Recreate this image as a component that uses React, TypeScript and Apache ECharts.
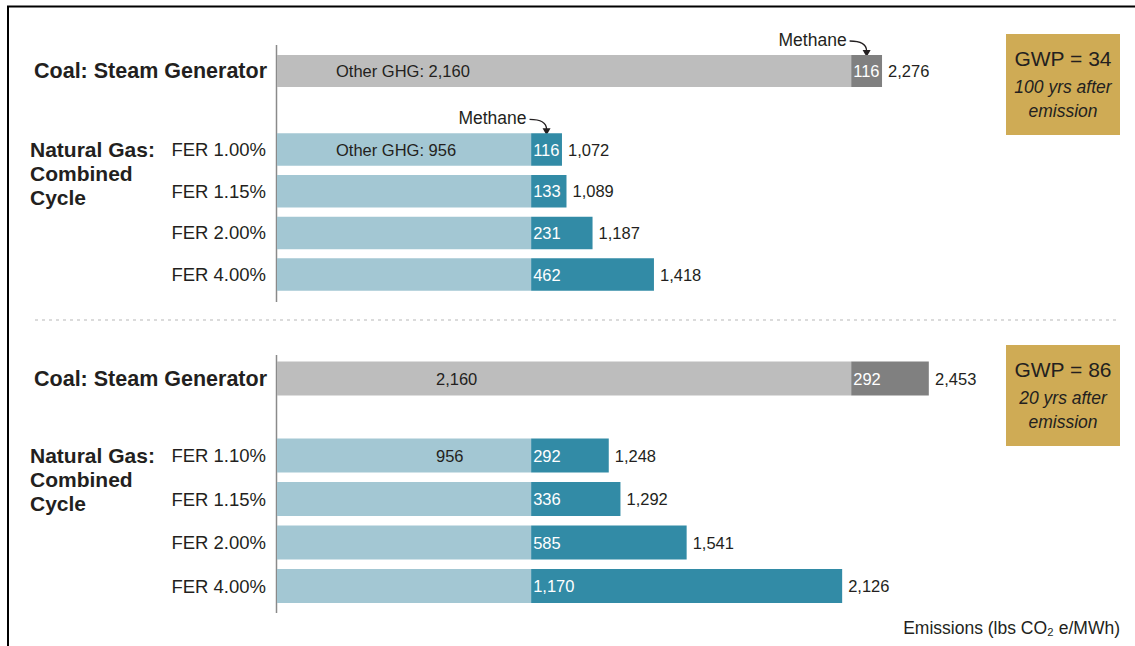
import React, { useEffect, useRef } from "react";
import * as echarts from "echarts";

// ---------- data ----------
const coalCategory = ["Coal: Steam Generator"];
const gasCategories100 = ["FER 1.00%", "FER 1.15%", "FER 2.00%", "FER 4.00%"];
const gasCategories20 = ["FER 1.10%", "FER 1.15%", "FER 2.00%", "FER 4.00%"];

const coalOther100 = [2160];
const coalMethane100 = [116];
const coalTotal100 = [2276];
const gasOther100 = [956, 956, 956, 956];
const gasMethane100 = [116, 133, 231, 462];
const gasTotal100 = [1072, 1089, 1187, 1418];

const coalOther20 = [2160];
const coalMethane20 = [292];
const coalTotal20 = [2453];
const gasOther20 = [956, 956, 956, 956];
const gasMethane20 = [292, 336, 585, 1170];
const gasTotal20 = [1248, 1292, 1541, 2126];

const gwpTitles = ["GWP = 34", "GWP = 86"];
const gwpHorizons = ["100 yrs after", "20 yrs after"];
const gwpSuffix = "emission";
const groupLabelLines = ["Natural Gas:", "Combined", "Cycle"];
const methaneLabel = "Methane";
const otherPrefix = "Other GHG: ";
const axisTitle = "Emissions (lbs CO\u2082 e/MWh)";

// ---------- styles ----------
const SANS = "'Liberation Sans', Arial, sans-serif";
const INK = "#231f20";
const COAL_OTHER = "#bdbdbd";
const COAL_METH = "#808080";
const GAS_OTHER = "#a3c7d3";
const GAS_METH = "#328ba6";
const GOLD = "#cfab55";
const fmt = (v: number) => v.toLocaleString("en-US");

const X_MAX = 3000;
const GRID_LEFT = 277;
const GRID_WIDTH = 797.5;
const VAL_SIZE = 16.5;

const grids = [
  { top: 55, height: 32, bar: 32 },
  { top: 128.7, height: 166.7, bar: 32.5 },
  { top: 361.5, height: 34, bar: 34 },
  { top: 433.75, height: 174, bar: 34 },
];

function makeSeries(
  gi: number,
  other: number[],
  methane: number[],
  total: number[],
  cOther: string,
  cMeth: string,
  otherFmt: (v: number) => string,
  otherDist: number
) {
  const bw = grids[gi].bar;
  return [
    {
      type: "bar",
      xAxisIndex: gi,
      yAxisIndex: gi,
      stack: "s" + gi,
      barWidth: bw,
      barGap: "-100%",
      itemStyle: { color: cOther },
      data: other.map((v, i) => ({ value: v, label: { show: i === 0 } })),
      label: {
        position: "insideLeft",
        distance: otherDist,
        color: INK,
        fontFamily: SANS,
        fontSize: VAL_SIZE,
        formatter: (p: any) => otherFmt(p.value),
      },
    },
    {
      type: "bar",
      xAxisIndex: gi,
      yAxisIndex: gi,
      stack: "s" + gi,
      barWidth: bw,
      barGap: "-100%",
      itemStyle: { color: cMeth },
      data: methane,
      label: {
        show: true,
        position: "insideLeft",
        distance: 2,
        color: "#ffffff",
        fontFamily: SANS,
        fontSize: VAL_SIZE,
        formatter: (p: any) => fmt(p.value),
      },
    },
    {
      type: "bar",
      xAxisIndex: gi,
      yAxisIndex: gi,
      barWidth: bw,
      barGap: "-100%",
      silent: true,
      itemStyle: { color: "rgba(0,0,0,0)" },
      data: total,
      label: {
        show: true,
        position: "right",
        distance: 6,
        color: INK,
        fontFamily: SANS,
        fontSize: VAL_SIZE,
        formatter: (p: any) => fmt(p.value),
      },
      z: 1,
    },
  ];
}

export default function App() {
  const ref = useRef<HTMLDivElement>(null);
  useEffect(() => {
    if (!ref.current) return;
    const chart = echarts.init(ref.current, undefined, { renderer: "svg" });
    const cats = [coalCategory, gasCategories100, coalCategory, gasCategories20];
    const option: any = {
      animation: false,
      backgroundColor: "#ffffff",
      grid: grids.map((g) => ({ left: GRID_LEFT, width: GRID_WIDTH, top: g.top, height: g.height })),
      xAxis: grids.map((_, i) => ({ type: "value", gridIndex: i, min: 0, max: X_MAX, show: false })),
      yAxis: grids.map((_, i) => ({
        type: "category",
        gridIndex: i,
        inverse: true,
        data: cats[i],
        axisLine: { show: false },
        axisTick: { show: false },
        axisLabel:
          i % 2 === 0
            ? { color: INK, fontFamily: SANS, fontWeight: "bold", fontSize: 21.5, margin: 10 }
            : { color: INK, fontFamily: SANS, fontSize: 18.5, margin: 11 },
      })),
      series: [
        ...makeSeries(0, coalOther100, coalMethane100, coalTotal100, COAL_OTHER, COAL_METH, (v) => otherPrefix + fmt(v), 59),
        ...makeSeries(1, gasOther100, gasMethane100, gasTotal100, GAS_OTHER, GAS_METH, (v) => otherPrefix + fmt(v), 59),
        ...makeSeries(2, coalOther20, coalMethane20, coalTotal20, COAL_OTHER, COAL_METH, (v) => fmt(v), 159),
        ...makeSeries(3, gasOther20, gasMethane20, gasTotal20, GAS_OTHER, GAS_METH, (v) => fmt(v), 159),
      ],
    };
    chart.setOption(option);

    const graphics: any[] = [];
    // frame
    graphics.push({
      type: "polyline",
      shape: { points: [[8, 646], [8, 6.5], [1135, 6.5]] },
      style: { stroke: "#000", lineWidth: 2, fill: null },
    });
    // dashed separator
    graphics.push({
      type: "line",
      shape: { x1: 35, y1: 320, x2: 1120, y2: 320 },
      style: { stroke: "#cfcfcf", lineWidth: 1.5, lineDash: [3, 4] },
    });
    // axis lines
    [[45, 302], [355, 613]].forEach(([y1, y2]) =>
      graphics.push({
        type: "line",
        shape: { x1: 276.5, y1, x2: 276.5, y2 },
        style: { stroke: "#8a8a8a", lineWidth: 1.5 },
      })
    );
    // GWP boxes
    [34, 345].forEach((top, k) => {
      graphics.push({ type: "rect", shape: { x: 1006, y: top, width: 114, height: 101 }, style: { fill: GOLD } });
      graphics.push({
        type: "text",
        x: 1063,
        y: top + 24,
        style: { text: gwpTitles[k], fill: INK, font: `21px ${SANS}`, align: "center", verticalAlign: "middle" },
      });
      graphics.push({
        type: "text",
        x: 1063,
        y: top + 53,
        style: { text: gwpHorizons[k], fill: INK, font: `italic 17.5px ${SANS}`, align: "center", verticalAlign: "middle" },
      });
      graphics.push({
        type: "text",
        x: 1063,
        y: top + 77,
        style: { text: gwpSuffix, fill: INK, font: `italic 17.5px ${SANS}`, align: "center", verticalAlign: "middle" },
      });
    });
    // Natural gas group labels
    [1, 3].forEach((gi) => {
      const p = chart.convertToPixel({ gridIndex: gi } as any, [0, 0]) as number[];
      groupLabelLines.forEach((line, j) =>
        graphics.push({
          type: "text",
          x: 30,
          y: p[1] + j * 24,
          style: { text: line, fill: INK, font: `bold 21px ${SANS}`, align: "left", verticalAlign: "middle" },
        })
      );
    });
    // Methane annotations
    const ann: [number, number, number][] = [
      [0, coalOther100[0], coalMethane100[0]],
      [1, gasOther100[0], gasMethane100[0]],
    ];
    ann.forEach(([gi, o, m]) => {
      const p = chart.convertToPixel({ gridIndex: gi } as any, [o + m / 2, 0]) as number[];
      const tipX = p[0];
      const barTop = p[1] - grids[gi].bar / 2;
      const sx = tipX - 17;
      const sy = barTop - 14;
      graphics.push({
        type: "text",
        x: sx - 3,
        y: barTop - 15,
        style: { text: methaneLabel, fill: INK, font: `17.5px ${SANS}`, align: "right", verticalAlign: "middle" },
      });
      graphics.push({
        type: "bezierCurve",
        shape: { x1: sx, y1: sy, cpx1: sx + 10, cpy1: sy, cpx2: tipX, cpy2: sy + 3, x2: tipX, y2: barTop - 4 },
        style: { stroke: INK, lineWidth: 1.3, fill: null },
      });
      graphics.push({
        type: "polygon",
        shape: { points: [[tipX - 4, barTop - 5], [tipX + 4, barTop - 5], [tipX, barTop + 2]] },
        style: { fill: INK },
      });
    });
    // axis title
    graphics.push({
      type: "text",
      x: 1120,
      y: 628,
      style: { text: axisTitle, fill: INK, font: `17.5px ${SANS}`, align: "right", verticalAlign: "middle" },
    });

    chart.setOption({ graphic: graphics });
    return () => chart.dispose();
  }, []);
  return <div ref={ref} style={{ position: "absolute", left: 0, top: 0, width: 1135, height: 646 }} />;
}
